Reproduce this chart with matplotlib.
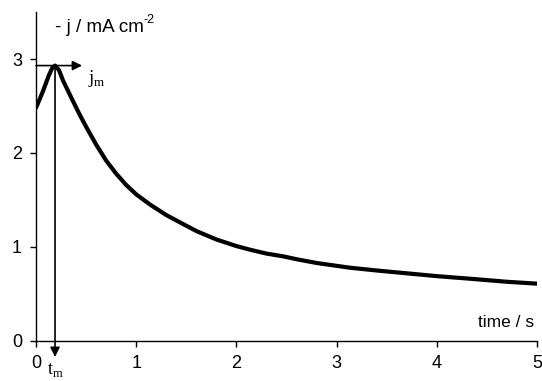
import matplotlib
matplotlib.use("Agg")
import matplotlib.pyplot as plt

plt.rcParams['font.family'] = ['Liberation Sans', 'DejaVu Sans']
plt.rcParams['mathtext.fontset'] = 'custom'
plt.rcParams['mathtext.rm'] = 'Liberation Serif'

# chronoamperometric transient: current density vs. time
time_s = [0, 0.067, 0.13, 0.16, 0.19, 0.23, 0.27, 0.37, 0.44, 0.50, 0.60, 0.70,
          0.80, 0.90, 1.0, 1.14, 1.3, 1.44, 1.6, 1.8, 2.0, 2.14, 2.3, 2.47, 2.6,
          2.8, 3.13, 3.4, 3.7, 4.0, 4.36, 4.7, 5.0]
minus_j = [2.48, 2.65, 2.83, 2.90, 2.93, 2.88, 2.77, 2.55, 2.40, 2.28, 2.09, 1.92,
           1.78, 1.66, 1.56, 1.45, 1.34, 1.26, 1.17, 1.08, 1.01, 0.97, 0.93, 0.90, 0.87,
           0.83, 0.78, 0.75, 0.72, 0.69, 0.66, 0.63, 0.61]
t_max = 0.19
j_max = 2.93
x_ticks = [0, 1, 2, 3, 4, 5]
y_ticks = [0, 1, 2, 3]

fig = plt.figure(figsize=(5.42, 3.81), dpi=100)
ax = fig.add_axes([0.0664, 0.105, 0.9244, 0.8635])

ax.plot(time_s, minus_j, color='black', lw=3.0, solid_capstyle='round',
        solid_joinstyle='round')

ax.set_xlim(0, 5)
ax.set_ylim(0, 3.5)
ax.set_xticks(x_ticks)
ax.set_yticks(y_ticks)
for side in ('top', 'right'):
    ax.spines[side].set_visible(False)
for side in ('left', 'bottom'):
    ax.spines[side].set_linewidth(1.0)
ax.tick_params(direction='out', length=4, width=1, labelsize=13, pad=6)

# j_m arrow along the peak height
ax.annotate('', xy=(0.46, j_max), xytext=(0, j_max),
            arrowprops=dict(arrowstyle='-|>', color='black', lw=1.2,
                            mutation_scale=14, shrinkA=0, shrinkB=0))
ax.text(0.52, j_max - 0.03, r'j$_{\rm m}$', family='Liberation Serif',
        fontsize=13.5, va='top', ha='left')

# t_m arrow dropping from the peak below the time axis
ax.annotate('', xy=(t_max, -0.17), xytext=(t_max, j_max),
            arrowprops=dict(arrowstyle='-|>', color='black', lw=1.2,
                            mutation_scale=14, shrinkA=0, shrinkB=0),
            annotation_clip=False)
ax.text(t_max, -0.21, r't$_{\rm m}$', family='Liberation Serif',
        fontsize=13, va='top', ha='center', clip_on=False)

ylab = ax.text(0.19, 3.33, '- j / mA cm', fontsize=13.5, ha='left', va='center')
ax.annotate('-2', xy=(1, 0.62), xycoords=ylab, fontsize=9,
            ha='left', va='bottom')
ax.text(4.97, 0.2, 'time / s', fontsize=12.5, ha='right', va='center')

fig.savefig('out.png', dpi=100)
